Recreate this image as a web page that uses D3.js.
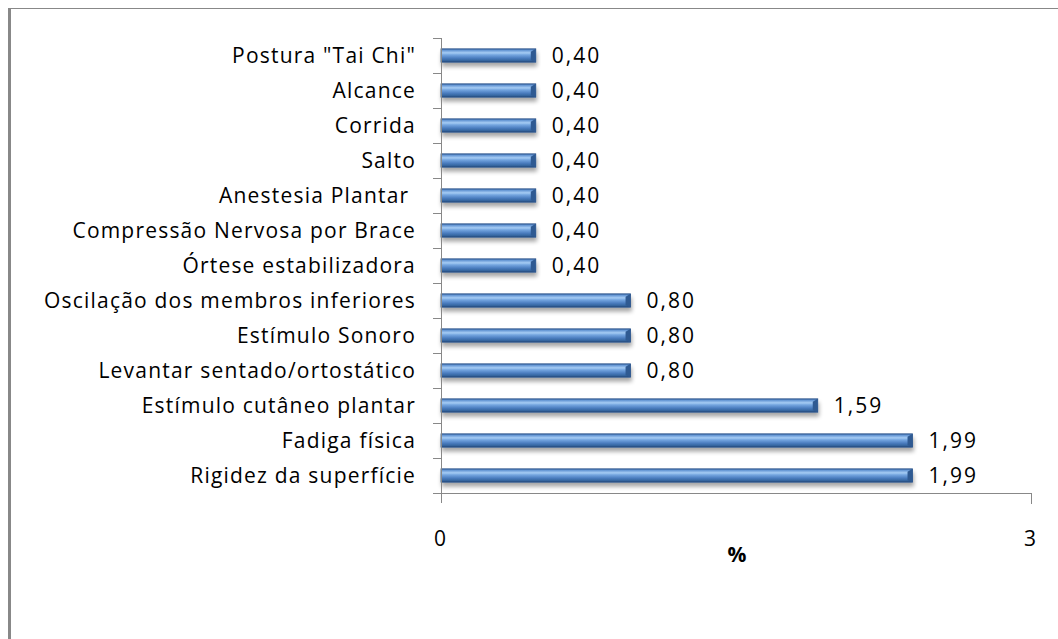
<!DOCTYPE html>
<html><head><meta charset="utf-8">
<script src="https://cdn.jsdelivr.net/npm/d3@7"></script>
<style>html,body{margin:0;padding:0;background:#fff;}svg{display:block;}</style>
</head><body>
<script>
const categories = ['Postura "Tai Chi"', 'Alcance', 'Corrida', 'Salto', 'Anestesia Plantar ', 'Compressão Nervosa por Brace', 'Órtese estabilizadora', 'Oscilação dos membros inferiores', 'Estímulo Sonoro', 'Levantar sentado/ortostático', 'Estímulo cutâneo plantar', 'Fadiga física', 'Rigidez da superfície'];
const values = [0.40, 0.40, 0.40, 0.40, 0.40, 0.40, 0.40, 0.80, 0.80, 0.80, 1.59, 1.99, 1.99];
const valueLabels = ['0,40','0,40','0,40','0,40','0,40','0,40','0,40','0,80','0,80','0,80','1,59','1,99','1,99'];
const xTickLabels = ['0', '3'];
const axisTitle = '%';

const W = 1058, H = 639;
const font = "'Open Sans', Lato, sans-serif";
const svg = d3.select('body').append('svg').attr('width', W).attr('height', H);

// frame
svg.append('line').attr('x1', 9.5).attr('x2', 9.5).attr('y1', 8).attr('y2', H).attr('stroke', '#888').attr('stroke-width', 3);
svg.append('line').attr('x1', 8).attr('x2', W).attr('y1', 8.5).attr('y2', 8.5).attr('stroke', '#888').attr('stroke-width', 1);

const x0 = 441, x1 = 1031, yTop = 38, yBot = 493;
const x = d3.scaleLinear().domain([0, 2.49]).range([x0, x1]);
const y = d3.scaleBand().domain(categories).range([yTop, yBot]).paddingInner(0.62).paddingOuter(0.31);

const defs = svg.append('defs');
const g = defs.append('linearGradient').attr('id', 'barg').attr('x1', 0).attr('x2', 0).attr('y1', 0).attr('y2', 1);
[[0, '#3c6ba8'], [0.12, '#6a9ad6'], [0.3, '#a6ccf4'], [0.45, '#75a6e0'], [0.7, '#4a7cbf'], [0.88, '#35659f'], [1, '#24497a']]
  .forEach(([o, c]) => g.append('stop').attr('offset', o).attr('stop-color', c));
const f = defs.append('filter').attr('id', 'sh').attr('x', '-5%').attr('y', '-50%').attr('width', '110%').attr('height', '250%');
f.append('feGaussianBlur').attr('in', 'SourceAlpha').attr('stdDeviation', 2.2);
f.append('feOffset').attr('dx', 1).attr('dy', 4).attr('result', 'b');
f.append('feComponentTransfer').append('feFuncA').attr('type', 'linear').attr('slope', 0.35);
const m = f.append('feMerge'); m.append('feMergeNode'); m.append('feMergeNode').attr('in', 'SourceGraphic');

// bars
const bars = svg.append('g');
bars.selectAll('rect').data(values).join('rect')
  .attr('x', x(0)).attr('y', (d, i) => y(categories[i]))
  .attr('width', d => x(d) - x(0)).attr('height', y.bandwidth())
  .attr('fill', 'url(#barg)').attr('stroke', '#2a5288').attr('stroke-width', 0.8)
  .attr('filter', 'url(#sh)');
bars.selectAll('path.cap').data(values).join('path').attr('class', 'cap')
  .attr('d', (d, i) => {
    const xe = x(d), yt = y(categories[i]), h = y.bandwidth();
    return `M${xe - 5},${yt + 3}L${xe},${yt}L${xe},${yt + h}L${xe - 5},${yt + h - 2}Z`;
  })
  .attr('fill', '#2f5a92');

// axes
const yAxis = svg.append('g');
yAxis.append('line').attr('x1', x0 + 0.5).attr('x2', x0 + 0.5).attr('y1', yTop).attr('y2', yBot + 10).attr('stroke', '#888');
const bounds = d3.range(categories.length + 1).map(i => yTop + i * y.step());
yAxis.selectAll('line.t').data(bounds).join('line').attr('class', 't')
  .attr('x1', x0 - 8).attr('x2', x0).attr('y1', d => Math.round(d) + 0.5).attr('y2', d => Math.round(d) + 0.5).attr('stroke', '#888');
svg.append('line').attr('x1', x0).attr('x2', x1 + 0.5).attr('y1', yBot + 0.5).attr('y2', yBot + 0.5).attr('stroke', '#888');
svg.append('line').attr('x1', x1 + 0.5).attr('x2', x1 + 0.5).attr('y1', yBot).attr('y2', yBot + 11).attr('stroke', '#888');

// category labels
svg.append('g').selectAll('text').data(categories).join('text')
  .attr('x', 416).attr('y', d => y(d) + y.bandwidth() / 2)
  .attr('dy', '0.36em').attr('text-anchor', 'end')
  .attr('font-family', font).attr('font-size', 21).attr('letter-spacing', 1.2).attr('fill', '#000')
  .style('white-space', 'pre').text(d => d);

// value labels
svg.append('g').selectAll('text').data(values).join('text')
  .attr('x', d => x(d) + 16).attr('y', (d, i) => y(categories[i]) + y.bandwidth() / 2)
  .attr('dy', '0.36em').attr('font-family', font).attr('font-size', 21).attr('letter-spacing', 2).attr('fill', '#000')
  .text((d, i) => valueLabels[i]);

// x tick labels
svg.append('g').selectAll('text').data(xTickLabels).join('text')
  .attr('x', (d, i) => i === 0 ? x(0) - 1 : x.range()[1] - 1).attr('y', 546)
  .attr('text-anchor', 'middle')
  .attr('font-family', font).attr('font-size', 21).attr('fill', '#000').text(d => d);

svg.append('text').attr('x', 737).attr('y', 562).attr('text-anchor', 'middle')
  .attr('font-family', font).attr('font-size', 21).attr('font-weight', 'bold').text(axisTitle);
</script>
</body></html>
